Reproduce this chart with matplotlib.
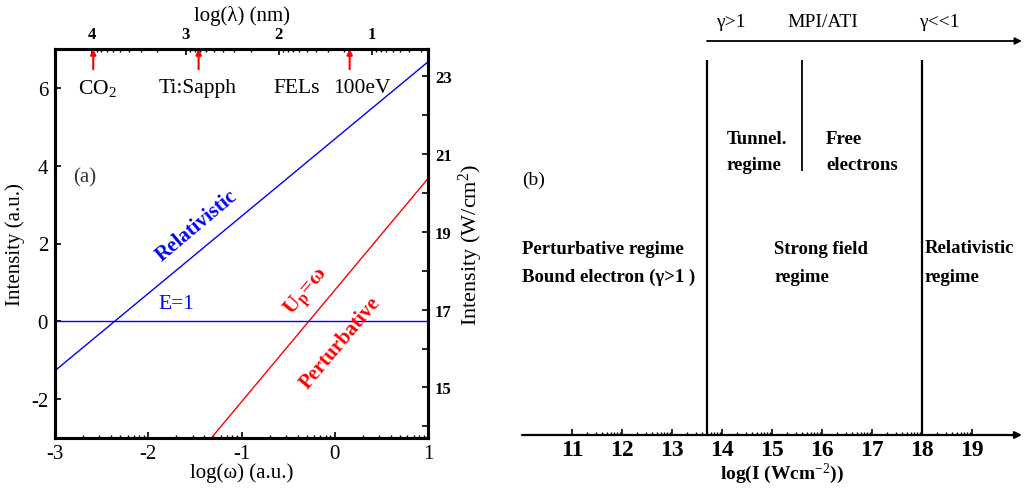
import numpy as np
import matplotlib
matplotlib.use('Agg')
import matplotlib.pyplot as plt

plt.rcParams['font.family'] = ['Liberation Serif', 'DejaVu Serif']
plt.rcParams['mathtext.fontset'] = 'custom'
plt.rcParams['mathtext.rm'] = 'Liberation Serif'
plt.rcParams['mathtext.it'] = 'Liberation Serif:italic'
plt.rcParams['mathtext.bf'] = 'Liberation Serif:bold'
plt.rcParams['axes.unicode_minus'] = False

# (a) intensity vs frequency, log10 scales
logw = [-3.0, 1.0]
relativistic = [-1.27, 6.67]        # log I where electrons become relativistic
perturbative = [-7.81, 3.67]        # log I where Up = omega
e_one = [0.0, 0.0]                  # E = 1 a.u.
wm_offset = 16.7                    # log I (a.u.) -> log I (W/cm2)
lam_offset = 1.40                   # log(lambda/nm) = offset - log(omega)

sources = ['CO$_2$', 'Ti:Sapph', 'FELs', '100eV']
source_x = [-2.75, -1.47, -0.405, 0.29]
arrow_lam = [3.99, 2.86, 1.24]

# (b) intensity regimes
bounds = [13.7, 18.0]
mpi_split = 15.6
b_ticks = list(range(11, 20))


def log_minor(lo, hi):
    return [n + np.log10(k) for n in range(lo, hi) for k in range(2, 10)]


fig = plt.figure(figsize=(10.26, 4.89), dpi=100)

ax = fig.add_axes([55 / 1026, 1 - 439 / 489, 373 / 1026, 389 / 489])
ax.plot(logw, relativistic, color='blue', lw=1.0)
ax.plot(logw, perturbative, color='red', lw=1.0)
ax.plot(logw, e_one, color='blue', lw=1.0)
ax.set_xlim(-3, 1)
ax.set_ylim(-3, 7)
ax.set_xticks([-3, -2, -1, 0, 1])
ax.set_xticks(log_minor(-3, 1), minor=True)
ax.set_yticks([-2, 0, 2, 4, 6])
ax.tick_params(direction='in', length=4, width=1.2, labelsize=15, pad=5)
ax.tick_params(which='minor', direction='in', length=2, width=1.0)
ax.tick_params(axis='x', pad=4)
for s in ax.spines.values():
    s.set_linewidth(2.2)
ax.set_xlabel('log(ω) (a.u.)', fontsize=15, labelpad=0)
ax.set_ylabel('Intensity (a.u.)', fontsize=15, labelpad=4)

top = ax.secondary_xaxis('top', functions=(lambda x: lam_offset - x,
                                          lambda x: lam_offset - x))
top.set_xticks([1, 2, 3, 4])
top.set_xticks(log_minor(0, 4), minor=True)
top.tick_params(direction='in', length=4, width=1.2, labelsize=12, pad=5)
top.tick_params(which='minor', direction='in', length=2, width=1.0)
for lab in top.get_xticklabels():
    lab.set_fontweight('bold')
top.set_xlabel('log(λ) (nm)', fontsize=15, labelpad=4)

right = ax.twinx()
right.set_ylim(-3 + wm_offset, 7 + wm_offset)
right.set_yticks([15, 17, 19, 21, 23])
right.set_yticks([14, 16, 18, 20, 22], minor=True)
right.tick_params(direction='in', length=4, width=1.2, labelsize=12, pad=5)
right.tick_params(which='minor', direction='in', length=4, width=1.2)
for lab in right.get_yticklabels():
    lab.set_fontweight('bold')
for s in right.spines.values():
    s.set_linewidth(2.2)
right.set_ylabel('Intensity (W/cm$^2$)', fontsize=16, labelpad=4)

for lab, x in zip(sources, source_x):
    ha = 'left' if lab.startswith('CO') else 'center'
    ax.text(x, 6.0, lab, fontsize=15.5, ha=ha, va='center')
for lam in arrow_lam:
    x = lam_offset - lam
    ax.annotate('', xy=(x, 7.0), xytext=(x, 6.48),
                arrowprops=dict(arrowstyle='-|>', color='red', lw=1.5,
                                mutation_scale=8, shrinkA=0, shrinkB=0))

ax.text(-2.68, 3.72, '(a)', fontsize=15, color='#333333', ha='center', va='center')
ax.text(-1.70, 0.46, 'E=1', fontsize=15.5, color='blue', ha='center', va='center')
ax.text(-1.48, 2.46, 'Relativistic', fontsize=15, color='blue', fontweight='bold',
        rotation=40, rotation_mode='anchor', ha='center', va='center')
ax.text(-0.30, 0.77, 'U$_\\mathbf{p}$=ω', fontsize=16, color='red', fontweight='bold',
        rotation=50, rotation_mode='anchor', ha='center', va='center')
ax.text(0.056, -0.54, 'Perturbative', fontsize=15, color='red', fontweight='bold',
        rotation=50, rotation_mode='anchor', ha='center', va='center')

# (b) regimes along the intensity axis
bx = fig.add_axes([522 / 1026, 1 - 436 / 489, 500 / 1026, 420 / 489])
bx.set_xlim(10, 20)
bx.set_ylim(0, 420)
for s in bx.spines.values():
    s.set_visible(False)
bx.set_yticks([])
bx.set_xticks(b_ticks)
bx.set_xticks(log_minor(11, 19), minor=True)
bx.tick_params(axis='x', direction='in', length=4, width=1.2, labelsize=17, pad=3)
bx.tick_params(axis='x', which='minor', direction='in', length=2, width=1.0)
for lab in bx.get_xticklabels():
    lab.set_fontweight('bold')
bx.annotate('', xy=(20.0, 0), xytext=(10, 0), annotation_clip=False,
            arrowprops=dict(arrowstyle='-|>', color='black', lw=1.6,
                            mutation_scale=10, shrinkA=0, shrinkB=0))
bx.annotate('', xy=(20.0, 394), xytext=(bounds[0], 394), annotation_clip=False,
            arrowprops=dict(arrowstyle='-|>', color='black', lw=1.3,
                            mutation_scale=10, shrinkA=0, shrinkB=0))
bx.vlines(bounds, 0, 375, color='black', lw=1.6)
bx.vlines([mpi_split], 264, 375, color='black', lw=1.3)

bx.text(14.17, 413, 'γ>1', fontsize=14, ha='center', va='center')
bx.text(16.02, 413, 'MPI/ATI', fontsize=14, ha='center', va='center')
bx.text(18.35, 413, 'γ<<1', fontsize=14, ha='center', va='center')

bx.text(14.09, 296, 'Tunnel.', fontsize=13.5, fontweight='bold', ha='left', va='center')
bx.text(14.09, 270, 'regime', fontsize=13.5, fontweight='bold', ha='left', va='center')
bx.text(16.08, 296, 'Free', fontsize=13.5, fontweight='bold', ha='left', va='center')
bx.text(16.08, 270, 'electrons', fontsize=13.5, fontweight='bold', ha='left', va='center')

bx.text(10.0, 256, '(b)', fontsize=14, ha='left', va='center')
bx.text(10.0, 187, 'Perturbative regime', fontsize=13.5, fontweight='bold', ha='left', va='center')
bx.text(10.0, 159, 'Bound electron (γ>1 )', fontsize=13.5, fontweight='bold', ha='left', va='center')
bx.text(15.04, 187, 'Strong field', fontsize=13.5, fontweight='bold', ha='left', va='center')
bx.text(15.04, 159, 'regime', fontsize=13.5, fontweight='bold', ha='left', va='center')
bx.text(18.05, 187, 'Relativistic', fontsize=13.5, fontweight='bold', ha='left', va='center')
bx.text(18.05, 159, 'regime', fontsize=13.5, fontweight='bold', ha='left', va='center')
bx.text(15.2, -38, 'log(I (Wcm$^{-2}$))', fontsize=14, fontweight='bold',
        ha='center', va='center', clip_on=False)

fig.savefig('out.png', dpi=100)
